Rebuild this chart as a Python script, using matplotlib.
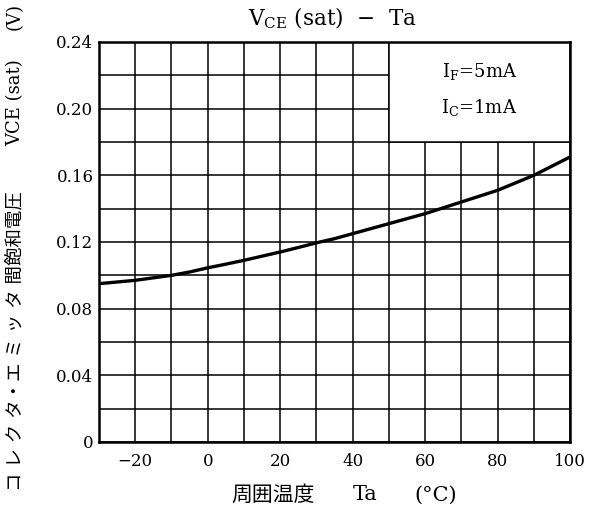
import matplotlib
matplotlib.use("Agg")
import matplotlib.pyplot as plt
from matplotlib.patches import Rectangle

plt.rcParams['font.family'] = ['DejaVu Serif', 'Noto Sans CJK JP']
plt.rcParams['mathtext.fontset'] = 'dejavuserif'

# data
ta = [-30, -25, -20, -15, -10, -5, 0, 5, 10, 15, 20, 25, 30, 35, 40, 45,
      50, 55, 60, 65, 70, 75, 80, 85, 90, 95, 100]
vce_sat = [0.095, 0.096, 0.097, 0.0985, 0.100, 0.102, 0.1045, 0.1067, 0.109,
           0.1115, 0.114, 0.1167, 0.1195, 0.122, 0.125, 0.128, 0.131, 0.134,
           0.137, 0.1405, 0.144, 0.1475, 0.151, 0.1555, 0.160, 0.1655, 0.171]

x_ticks = [-20, 0, 20, 40, 60, 80, 100]
x_tick_labels = ['\u221220', '0', '20', '40', '60', '80', '100']
y_ticks = [0, 0.04, 0.08, 0.12, 0.16, 0.20, 0.24]
y_tick_labels = ['0', '0.04', '0.08', '0.12', '0.16', '0.20', '0.24']

fig = plt.figure(figsize=(5.98, 5.13), dpi=100)
ax = fig.add_axes([99 / 598, 1 - 442 / 513, 471 / 598, 400 / 513])

ax.set_xlim(-30, 100)
ax.set_ylim(0, 0.24)
ax.set_xticks(range(-30, 101, 10), minor=True)
ax.set_yticks([i * 0.02 for i in range(13)], minor=True)
ax.set_xticks(x_ticks)
ax.set_xticklabels(x_tick_labels)
ax.set_yticks(y_ticks)
ax.set_yticklabels(y_tick_labels)
ax.tick_params(which='both', length=0, labelsize=12)
ax.tick_params(axis='x', pad=8)
ax.tick_params(axis='y', pad=4)
ax.grid(which='both', color='black', linewidth=1.1)
ax.set_axisbelow(True)
for s in ax.spines.values():
    s.set_linewidth(1.8)

# condition box covering the grid
ax.add_patch(Rectangle((50, 0.18), 50, 0.06, facecolor='white',
                       edgecolor='black', linewidth=1.1, zorder=2))
ax.text(75, 0.222, r'I$_{\rm F}$=5mA', ha='center', va='center', fontsize=13, zorder=3)
ax.text(75, 0.2004, r'I$_{\rm C}$=1mA', ha='center', va='center', fontsize=13, zorder=3)

ax.plot(ta, vce_sat, color='black', linewidth=2.4, zorder=3)

fig.text(333 / 598, 1 - 18 / 513, 'V$_{\\rm CE}$ (sat)  \u2212  Ta',
         ha='center', va='center', fontsize=15.5)

# x label pieces
fig.text(273 / 598, 1 - 495 / 513, '周囲温度', ha='center', va='center', fontsize=15)
fig.text(365 / 598, 1 - 495 / 513, 'Ta', ha='center', va='center', fontsize=15)
fig.text(436 / 598, 1 - 495 / 513, '(°C)', ha='center', va='center', fontsize=15)

# y label in three pieces (CJK + serif)
fig.text(15 / 598, 1 - 341 / 513, 'コ レ ク タ・エ ミ ッ タ 間飽和電圧',
         rotation=90, ha='center', va='center', fontsize=13.3)
fig.text(15 / 598, 1 - 103 / 513, 'VCE (sat)',
         rotation=90, ha='center', va='center', fontsize=13)
fig.text(15 / 598, 1 - 16 / 513, '(V)',
         rotation=90, ha='center', va='center', fontsize=13)

fig.savefig('out.png', dpi=100)
